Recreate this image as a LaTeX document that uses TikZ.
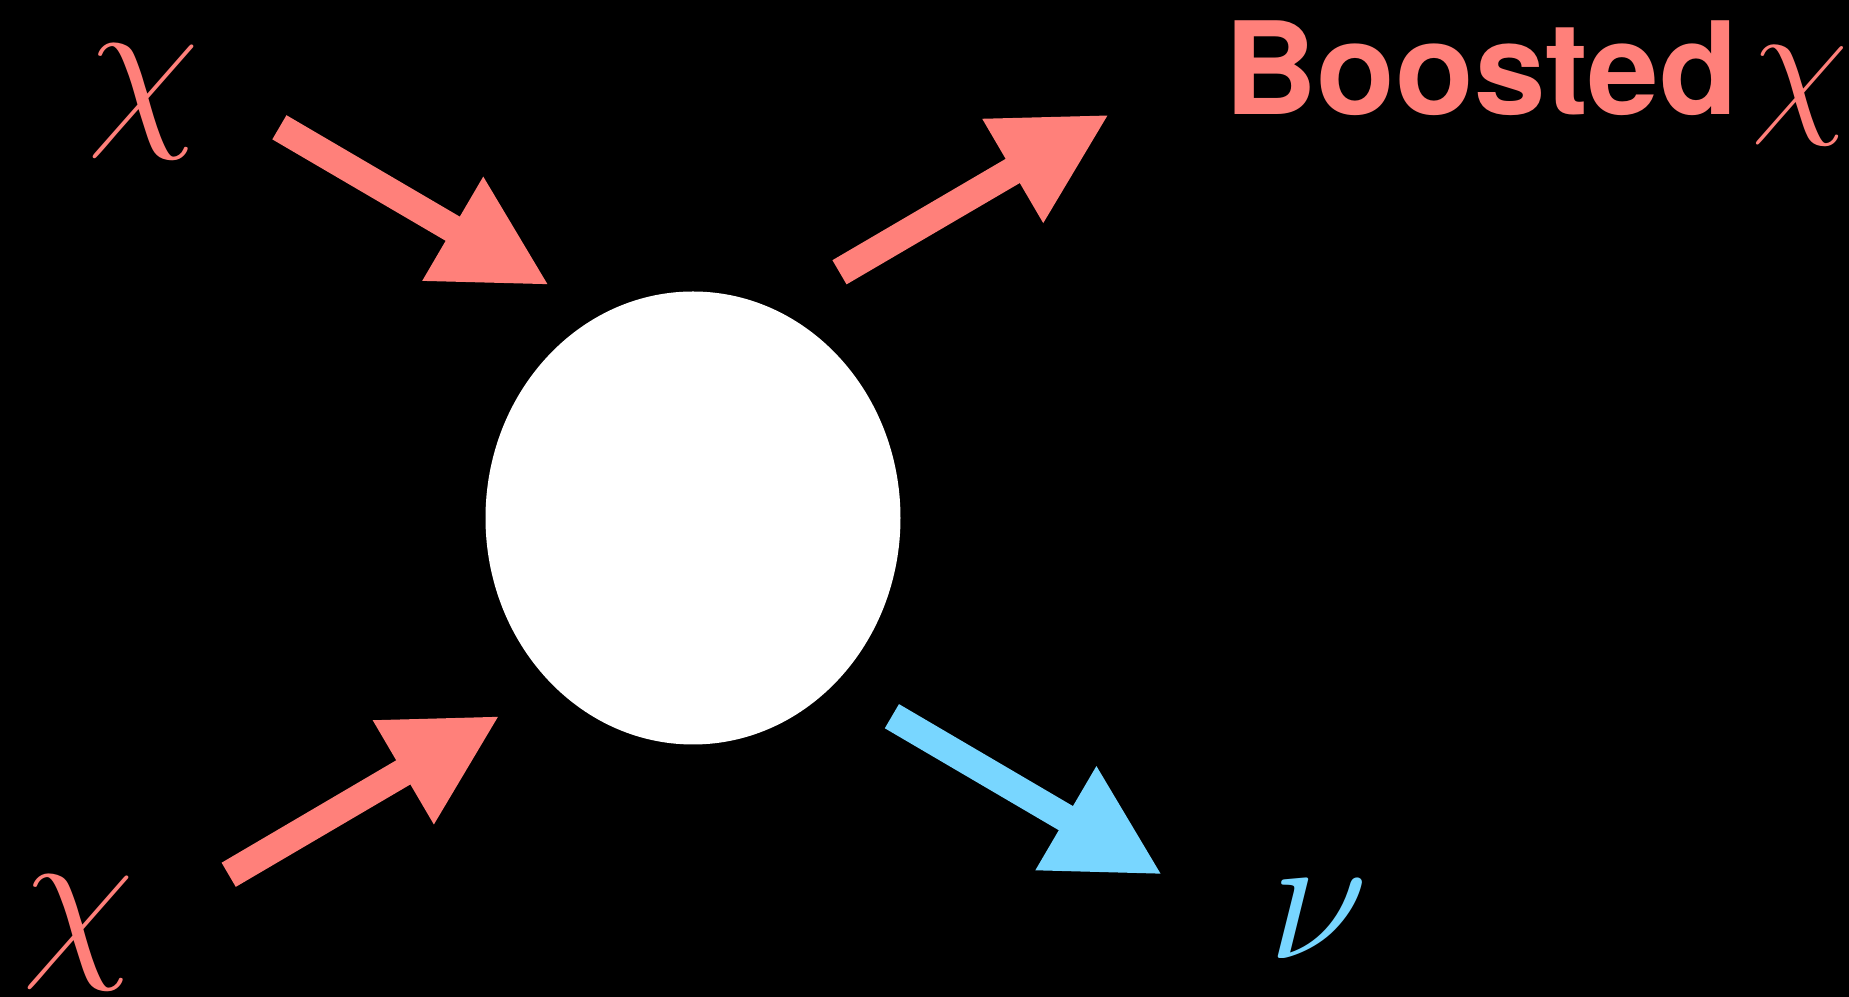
\RequirePackage{fix-cm}
\documentclass[tikz,border=0pt]{standalone}
\usepackage{fontspec}
\newfontfamily\labelsans{TeX Gyre Heros}
\usepackage{tikz}
\usetikzlibrary{shapes.geometric, arrows.meta, positioning}
\definecolor{salmon}{RGB}{255,128,122}
\definecolor{skyblue}{RGB}{120,214,255}

\begin{document}
\begin{tikzpicture}[
    every node/.style = {inner sep=0pt, outer sep=0pt},
    blob/.style     = {ellipse, fill=white,
                       minimum width=4.15cm, minimum height=4.53cm},
    particle/.style = {font=\fontsize{52}{62}\selectfont},
    fat/.style      = {line width=2.8mm,
                       -{Triangle[length=11.2mm, width=11.2mm]}},
    dmarrow/.style  = {fat, salmon},
    nuarrow/.style  = {fat, skyblue},
]

% --- background and frame ---
\fill[black] (0,0) rectangle (18.49,-9.97);
\useasboundingbox (0,0) rectangle (18.49,-9.97);

% --- interaction blob ---
\node[blob] (blob) at (6.93,-5.18) {};

% --- particle labels ---
\node[particle, text=salmon]  (chiin1) at (1.44,-1.02) {$\chi$};
\node[particle, text=salmon]  (chiin2) at (0.79,-9.33) {$\chi$};
\node[particle, text=skyblue] (nuout)  at (13.18,-9.19) {$\nu$};
\node[anchor=base west, text=salmon, font=\labelsans\bfseries\fontsize{36.6}{44}\selectfont]
    (boosted) at (12.24,-1.144)
    {Boosted\hspace{4pt}{\fontsize{45}{54}\selectfont$\chi$}};

% --- arrow end points ---
\coordinate (ainS) at (2.794,-1.273);
\coordinate (ainE) at (5.494,-2.853);
\coordinate (bouS) at (8.395,-2.723);
\coordinate (bouE) at (11.094,-1.144);
\coordinate (cinS) at (2.287,-8.748);
\coordinate (cinE) at (4.999,-7.157);
\coordinate (douS) at (8.919,-7.162);
\coordinate (douE) at (11.625,-8.748);

% --- arrows ---
\draw[dmarrow] (ainS) -- (ainE);
\draw[dmarrow] (bouS) -- (bouE);
\draw[dmarrow] (cinS) -- (cinE);
\draw[nuarrow] (douS) -- (douE);

\end{tikzpicture}
\end{document}
